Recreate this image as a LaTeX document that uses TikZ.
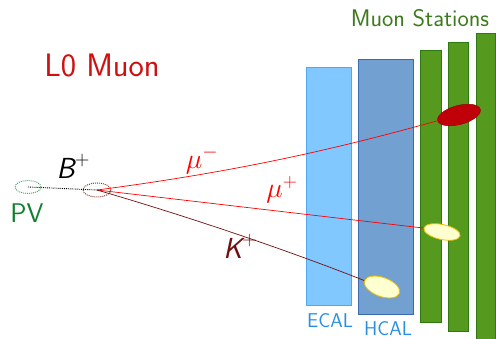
\RequirePackage{fix-cm}
\documentclass[tikz,border=0pt]{standalone}
\usepackage{fontspec}
\usepackage{tikz}
\usetikzlibrary{shapes.geometric}
\begin{document}
\begin{tikzpicture}[x=1pt,y=-1pt,
  lbl/.style={font=\sffamily, inner sep=0pt},
  det/.style={line width=1pt},
  vtx/.style={draw, densely dotted, line width=1pt},
  trk/.style={line width=0.7pt}]
\useasboundingbox (0,0) rectangle (496,339);
\definecolor{ecalf}{HTML}{80C8FF}\definecolor{ecald}{HTML}{50A8F0}
\definecolor{hcalf}{HTML}{72A0D0}\definecolor{hcald}{HTML}{3A6AB0}
\definecolor{muf}{HTML}{559A1E}\definecolor{mud}{HTML}{2E7A10}
\definecolor{mutxt}{HTML}{3C7A1C}\definecolor{ltxt}{HTML}{D01010}
\definecolor{pvcol}{HTML}{108030}\definecolor{kc}{HTML}{701010}
\definecolor{vtxc}{HTML}{904030}
\definecolor{ycf}{HTML}{FFFFD0}\definecolor{ycd}{HTML}{F0C000}
\definecolor{labblue}{HTML}{2890E0}
\definecolor{hitred}{HTML}{C00008}
% detectors
\draw[det, draw=ecald, fill=ecalf] (306,68) rectangle (351,306);
\draw[det, draw=hcald, fill=hcalf] (358,60) rectangle (413,315);
\draw[det, draw=mud, fill=muf] (420,51) rectangle (441,323);
\draw[det, draw=mud, fill=muf] (448,43) rectangle (468,332);
\draw[det, draw=mud, fill=muf] (476,34) rectangle (495,345);
% labels
\node[lbl, text=mutxt, font=\sffamily\fontsize{24}{28}\selectfont] (ms) at (420,18) {Muon Stations};
\node[lbl, text=ltxt, font=\sffamily\fontsize{32.5}{38}\selectfont] (l0) at (102,65) {L0 Muon};
\node[lbl, text=labblue, font=\sffamily\fontsize{20}{24}\selectfont] (ecal) at (330,321) {ECAL};
\node[lbl, text=labblue, font=\sffamily\fontsize{20}{24}\selectfont] (hcal) at (388,329) {HCAL};
% vertices
\node[vtx, draw=pvcol!70, ellipse, minimum width=26pt, minimum height=13pt, inner sep=0pt] (pv) at (28,187) {};
\node[vtx, draw=vtxc, ellipse, minimum width=28pt, minimum height=14pt, inner sep=0pt] (bv) at (97,190) {};
\coordinate (pvpt) at (28,187);
\coordinate (bvpt) at (97,190);
\draw[densely dotted, line width=0.9pt] (pvpt) -- (bvpt);
\node[lbl, text=pvcol, font=\sffamily\fontsize{27}{32}\selectfont] (pvl) at (27,213) {PV};
\node[lbl, font=\sffamily\fontsize{29}{34}\selectfont] (bl) at (73,166) {\slshape B\upshape\raisebox{0.45em}{\fontsize{20}{24}\selectfont +}};
% hits
\node[fill=hitred, draw=hitred!80!black, line width=0.5pt, ellipse, minimum width=44pt, minimum height=19pt, rotate=15, inner sep=0pt] (hm) at (459,115) {};
\node[draw=ycd, line width=0.8pt, fill=ycf, ellipse, minimum width=37pt, minimum height=15pt, rotate=-12, inner sep=0pt] (hp) at (442,232) {};
\node[draw=ycd, line width=0.8pt, fill=ycf, ellipse, minimum width=37pt, minimum height=19pt, rotate=-20, inner sep=0pt] (hk) at (382,287) {};
% tracks
\draw[trk, red] (bvpt) .. controls (250,170) and (350,145) .. (hm.west);
\draw[trk, red] (bvpt) -- (hp.west);
\draw[trk, kc] (bvpt) .. controls (200,220) and (300,255) .. (hk.west);
\node[lbl, text=red, font=\fontsize{28}{32}\selectfont] (mml) at (202,160) {$\mu^{-}$};
\node[lbl, text=red, font=\fontsize{28}{32}\selectfont] (mpl) at (282,190) {$\mu^{+}$};
\node[lbl, text=kc, font=\sffamily\fontsize{29}{34}\selectfont] (kl) at (240,246) {\slshape K\upshape\raisebox{0.45em}{\fontsize{20}{24}\selectfont +}};
\end{tikzpicture}
\end{document}
